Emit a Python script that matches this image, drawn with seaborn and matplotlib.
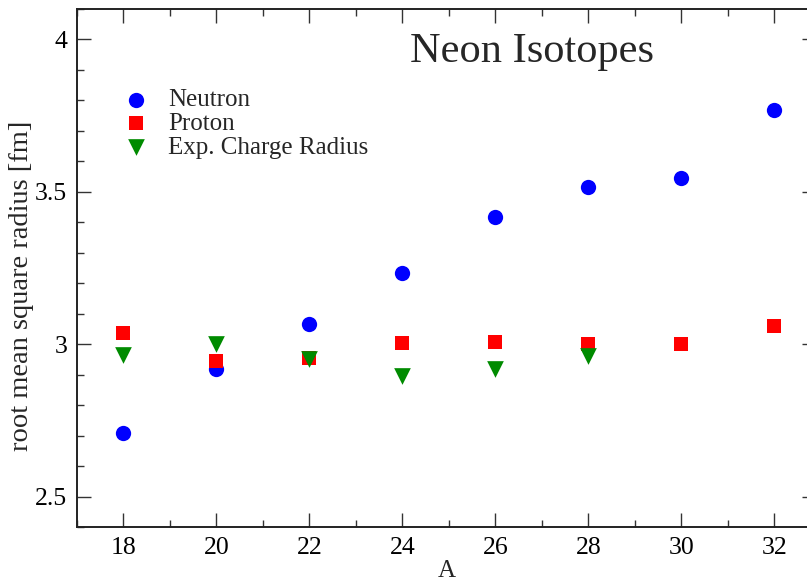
import numpy as np
import pandas as pd
import matplotlib
matplotlib.use("Agg")
import matplotlib.pyplot as plt
import seaborn as sns

# ---- data ----
mass_number = [18, 20, 22, 24, 26, 28, 30, 32]
neutron_rms = [2.707, 2.920, 3.066, 3.233, 3.419, 3.516, 3.546, 3.769]
proton_rms = [3.037, 2.945, 2.955, 3.004, 3.007, 2.999, 3.000, 3.061]
exp_mass_number = [18, 20, 22, 24, 26, 28]
exp_charge_radius = [2.966, 2.999, 2.951, 2.897, 2.920, 2.962]

sns.set_style("ticks")
plt.rcParams["font.family"] = ["Liberation Serif", "DejaVu Serif"]
plt.rcParams["mathtext.fontset"] = "stix"

fig = plt.figure(figsize=(8.07, 5.77), dpi=100)
ax = fig.add_axes([77 / 807, 1 - 527 / 577, (816 - 77) / 807, (527 - 9) / 577])

df_n = pd.DataFrame({"A": mass_number, "r": neutron_rms})
df_p = pd.DataFrame({"A": mass_number, "r": proton_rms})
df_e = pd.DataFrame({"A": exp_mass_number, "r": exp_charge_radius})

sns.scatterplot(data=df_n, x="A", y="r", ax=ax, marker="o", s=11.0 ** 2,
                color="#0000ff", linewidth=0, label="Neutron", zorder=3)
sns.scatterplot(data=df_p, x="A", y="r", ax=ax, marker="s", s=10.3 ** 2,
                color="#ff0000", linewidth=0, label="Proton", zorder=4)
sns.scatterplot(data=df_e, x="A", y="r", ax=ax, marker="v", s=12.0 ** 2,
                color="#008b00", linewidth=0, label="Exp. Charge Radius", zorder=5)

ax.set_xlim(17.1, 32.9)
ax.set_ylim(2.4, 4.1)
ax.set_xticks([18, 20, 22, 24, 26, 28, 30, 32])
ax.set_xticks(np.arange(17, 33, 1), minor=True)
ax.set_yticks([2.5, 3.0, 3.5, 4.0])
ax.set_yticklabels(["2.5", "3", "3.5", "4"])
ax.set_yticks(np.arange(2.4, 4.11, 0.1), minor=True)

ax.tick_params(which="both", direction="in", top=True, right=True,
               labelsize=18.5, colors="#333333", labelcolor="black")
ax.tick_params(which="major", length=10, width=1.0, pad=7)
ax.tick_params(which="minor", length=5, width=1.0)
for sp in ax.spines.values():
    sp.set_linewidth(1.4)
    sp.set_color("#222222")

ax.set_xlabel("A", fontsize=18, labelpad=1)
ax.set_ylabel("root mean square radius [fm]", fontsize=20.5)
ax.yaxis.set_label_coords(-0.058, 0.465)

ax.text(0.6157, 0.898, "Neon Isotopes", transform=ax.transAxes,
        fontsize=30.5, ha="center", va="baseline")

leg = ax.legend(loc="upper left", bbox_to_anchor=(0.0595, 0.846), frameon=False,
                fontsize=18, handletextpad=0.68, labelspacing=0.05,
                borderaxespad=0, handlelength=1.2, borderpad=0)

fig.savefig("out.png", dpi=100)
